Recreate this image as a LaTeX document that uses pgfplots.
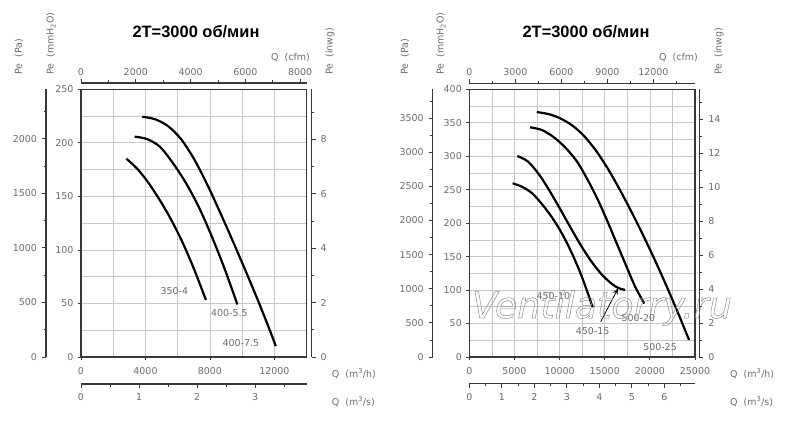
\documentclass[border=0pt]{standalone}
\usepackage{pgfplots}
\pgfplotsset{compat=1.18}
\usetikzlibrary{arrows.meta}
\usepackage{fontspec}
\setmainfont{DejaVu Sans}
\newfontfamily\titlefont{Liberation Sans}
\definecolor{lab}{gray}{0.42}
\definecolor{gridc}{gray}{0.78}
\definecolor{axc}{gray}{0.22}
\newcommand{\lf}{\fontsize{9.5}{10}\selectfont}
\tikzset{clab/.style={font=\lf, text=lab}}
\pgfplotsset{
  base/.style={scale only axis, scaled ticks=false, axis line style={line width=1.2bp, draw=axc},
    tick style={draw=axc, line width=0.8bp}, major tick length=4bp, minor tick length=2.5bp,
    tick align=outside, tick label style={font=\lf, text=lab},
    /pgf/number format/assume math mode=true, /pgf/number format/1000 sep={}},
  curve/.style={line width=2.2bp, black, smooth, tension=0.5},
  mainax/.style={base, anchor=south west, width=225.7bp, height=267.7bp,
    xtick pos=bottom, ytick pos=left, minor tick length=0bp, major tick length=3bp,
    grid=both, major grid style={gridc, line width=0.7bp}, minor grid style={gridc, line width=0.7bp},
    xticklabel shift=4bp, yticklabel shift=1bp},
  yside/.style={base, width=20bp, height=267.7bp, xmin=0, xmax=1, hide x axis, yticklabel shift=1.5bp},
  xside/.style={base, width=225.7bp, height=20bp, ymin=0, ymax=1, hide y axis},
}
\begin{document}
\begin{tikzpicture}[x=1bp,y=1bp]
%%%%%%%%%%%%%%%% LEFT PANEL %%%%%%%%%%%%%%%%
\begin{axis}[mainax, at={(81bp,65bp)},
  xmin=0, xmax=14000, ymin=0, ymax=250,
  xtick={0,4000,8000,12000}, minor xtick={2000,6000,10000},
  ytick={0,50,...,250}, minor ytick={25,75,...,225}]
% 350-4
\addplot[curve] coordinates {(2816,185.2) (3500,175.6) (4200,162.3) (4900,146.2) (5600,128.0) (6300,107.0) (7000,82.5) (7750,53.3)};
% 400-5.5
\addplot[curve] coordinates {(3330,205.8) (4100,203.5) (4900,196.3) (5700,181.1) (6500,162.7) (7300,140.3) (8100,113.1) (8900,82.7) (9700,49.1)};
% 400-7.5
\addplot[curve] coordinates {(3800,224.4) (4600,222.0) (5400,215.6) (6200,203.6) (7000,185.2) (7800,162.0) (8600,136.0) (9400,108.8) (10200,80.8) (11000,52.0) (11800,21.6) (12080,10.1)};
\node[clab] at (axis cs:5789,61.6) {350-4};
\node[clab] at (axis cs:9200,40.8) {400-5.5};
\node[clab] at (axis cs:9922,13.4) {400-7.5};
\end{axis}
% Pa axis
\begin{axis}[yside, at={(46bp,65bp)}, anchor=south west, axis y line*=left,
  ymin=0, ymax=2451.66, ytick={0,500,...,2000}, minor ytick={250,750,...,2250}]
\end{axis}
% inwg axis
\begin{axis}[yside, at={(311.7bp,65bp)}, anchor=south east, axis y line*=right,
  ymin=0, ymax=9.8425, ytick={0,2,...,8}, minor ytick={1,3,...,9}]
\end{axis}
% cfm axis
\begin{axis}[xside, at={(81bp,339bp)}, anchor=north west, axis x line*=top,
  xmin=0, xmax=8240.1, xtick={0,2000,...,8000}, minor xtick={1000,3000,...,7000}]
\end{axis}
% m3/s axis
\begin{axis}[xside, at={(81bp,38bp)}, anchor=south west, axis x line*=bottom,
  xmin=0, xmax=3.8889, xtick={0,1,2,3}, minor xtick={0.5,1.5,2.5,3.5}, xticklabel shift=2bp]
\end{axis}
\node[font=\titlefont\bfseries\fontsize{16.5}{18}\selectfont, anchor=base] at (196,384.7) {2T=3000 об/мин};
\node[clab, rotate=90, anchor=west, inner sep=0pt] at (19,347) {Pe~~(Pa)};
\node[clab, rotate=90, anchor=west, inner sep=0pt] at (51,347) {Pe~~(mmH\textsubscript{2}O)};
\node[clab, rotate=90, anchor=west, inner sep=0pt] at (330,347) {Pe~~(inwg)};
\node[clab, anchor=east, inner sep=0pt] at (310,364) {Q~~(cfm)};
\node[clab, anchor=west, inner sep=0pt] at (331.7,48) {Q~~(m\textsuperscript{3}/h)};
\node[clab, anchor=west, inner sep=0pt] at (331.7,20.3) {Q~~(m\textsuperscript{3}/s)};
%%%%%%%%%%%%%%%% RIGHT PANEL %%%%%%%%%%%%%%%%
\begin{axis}[mainax, at={(469.3bp,65bp)},
  xmin=0, xmax=25000, ymin=0, ymax=400,
  xtick={0,5000,...,25000}, minor xtick={2500,7500,...,22500},
  ytick={0,50,...,400}, minor ytick={25,75,...,375}]
% 450-10
\addplot[curve] coordinates {(4807,259.5) (5900,254.0) (7000,244.1) (8100,227.6) (9200,207.8) (10300,183.6) (11400,154.0) (12500,118.8) (13669,74.3)};
% 450-15
\addplot[curve] coordinates {(5317,300.3) (6502,292.0) (7832,270.7) (9127,242.9) (10235,216.9) (11343,190.3) (12450,164.8) (13558,142.1) (14666,123.3) (15773,109.4) (16505,103.2) (17247,100.2)};
% 500-20
\addplot[curve] coordinates {(6724,343.2) (8000,339.4) (9300,329.0) (10600,313.4) (11900,292.6) (13100,265.0) (14200,235.9) (15200,205.9) (16200,173.9) (17250,140.3) (18350,105.7) (19385,79.8)};
% 500-25
\addplot[curve] coordinates {(7466,366) (8800,362.9) (10100,356.4) (11400,346.0) (12700,330.4) (14000,308.9) (15300,282.3) (16600,251.7) (17900,218.6) (19200,183.5) (20500,146.4) (21800,107.4) (23100,66.4) (24336,25.6)};
\draw[-{Stealth[length=6bp,width=5bp]}, line width=0.8bp] (axis cs:14555,52.7) -- (axis cs:16472,102.5);
\node[clab] at (axis cs:9305,91.1) {450-10};
\node[clab] at (axis cs:13669,38.8) {450-15};
\node[clab] at (axis cs:18720,58.7) {500-20};
\node[clab] at (axis cs:21124,14.9) {500-25};
\end{axis}
\begin{axis}[yside, at={(432.7bp,65bp)}, anchor=south west, axis y line*=left,
  ymin=0, ymax=3922.66, ytick={0,500,...,3500}, minor ytick={250,750,...,3750}]
\end{axis}
\begin{axis}[yside, at={(699.3bp,65bp)}, anchor=south east, axis y line*=right,
  ymin=0, ymax=15.748, ytick={0,2,...,14}, minor ytick={1,3,...,15}]
\end{axis}
\begin{axis}[xside, at={(469.3bp,338.7bp)}, anchor=north west, axis x line*=top,
  xmin=0, xmax=14714.4, xtick={0,3000,...,12000}, minor xtick={1500,4500,...,13500}]
\end{axis}
\begin{axis}[xside, at={(469.3bp,38.3bp)}, anchor=south west, axis x line*=bottom,
  xmin=0, xmax=6.9444, xtick={0,1,...,6}, minor xtick={0.5,1.5,...,6.5}, xticklabel shift=2bp]
\end{axis}
\node[font=\titlefont\bfseries\fontsize{16.5}{18}\selectfont, anchor=base] at (586,384.7) {2T=3000 об/мин};
\node[clab, rotate=90, anchor=west, inner sep=0pt] at (405,347) {Pe~~(Pa)};
\node[clab, rotate=90, anchor=west, inner sep=0pt] at (441,347) {Pe~~(mmH\textsubscript{2}O)};
\node[clab, rotate=90, anchor=west, inner sep=0pt] at (719,347) {Pe~~(inwg)};
\node[clab, anchor=east, inner sep=0pt] at (698,364) {Q~~(cfm)};
\node[clab, anchor=west, inner sep=0pt] at (730,48) {Q~~(m\textsuperscript{3}/h)};
\node[clab, anchor=west, inner sep=0pt] at (730,20.3) {Q~~(m\textsuperscript{3}/s)};
% watermark
\node[text=black!45, font=\itshape\fontsize{36.5}{40}\selectfont] at (602,114) {\special{pdf:literal direct 1 Tr 0.5 w}Ventilatorry.ru\special{pdf:literal direct 0 Tr}};
\pgfresetboundingbox
\useasboundingbox (0,0) rectangle (800,422);
\end{tikzpicture}
\end{document}
